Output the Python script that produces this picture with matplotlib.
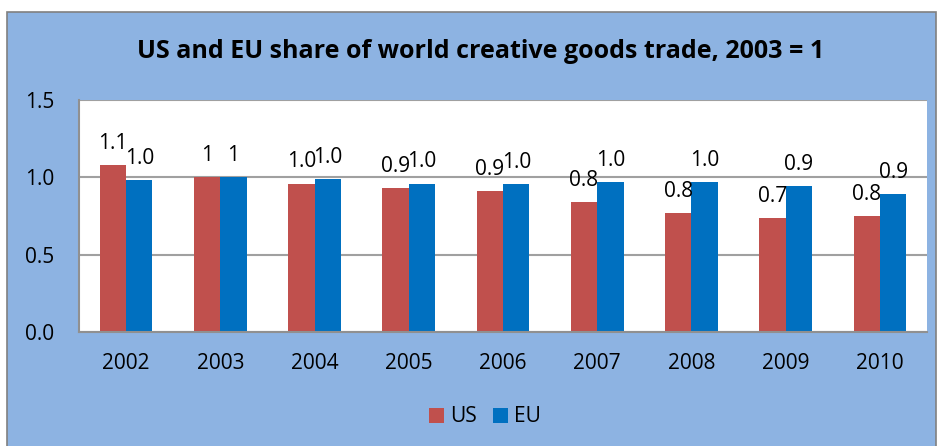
import numpy as np
import matplotlib.pyplot as plt
from matplotlib.patches import Rectangle

years = ['2002', '2003', '2004', '2005', '2006', '2007', '2008', '2009', '2010']
us = [1.08, 1.00, 0.96, 0.93, 0.91, 0.84, 0.77, 0.735, 0.75]
eu = [0.98, 1.00, 0.99, 0.96, 0.955, 0.97, 0.97, 0.945, 0.89]

red = '#C0504D'
blue = '#0070C0'
bg = '#8DB3E2'


def label(v):
    return '1' if v == 1 else f'{v:.1f}'


plt.rcParams['font.family'] = ['Open Sans', 'DejaVu Sans']

fig = plt.figure(figsize=(9.38, 4.46), dpi=100)
fig.patch.set_facecolor('white')
fig.patches.append(Rectangle((7 / 938, -0.01), 929 / 938, 1 - 12 / 446 + 0.01,
                             transform=fig.transFigure, facecolor=bg,
                             edgecolor='#808080', linewidth=1.2, zorder=-10))

ax = fig.add_axes([79 / 938, 114 / 446, 848 / 938, 232 / 446])
ax.set_facecolor('white')

x = np.arange(len(years))
w = 0.28
b1 = ax.bar(x - w / 2, us, w, color=red, label='US', zorder=3)
b2 = ax.bar(x + w / 2, eu, w, color=blue, label='EU', zorder=3)

for bars, vals in ((b1, us), (b2, eu)):
    for r, v in zip(bars, vals):
        ax.annotate(label(v), (r.get_x() + r.get_width() / 2, v),
                    xytext=(0, 8), textcoords='offset points',
                    ha='center', va='bottom', fontsize=15, zorder=4)

ax.set_xlim(-0.5, len(years) - 0.5)
ax.set_ylim(0, 1.5)
ax.set_yticks([0, 0.5, 1.0, 1.5])
ax.set_yticklabels(['0.0', '0.5', '1.0', '1.5'])
ax.set_xticks(x)
ax.set_xticklabels(years)
ax.tick_params(axis='both', length=0, labelsize=15)
ax.tick_params(axis='y', pad=18)
ax.tick_params(axis='x', pad=15)
ax.grid(axis='y', color='#A0A0A0', linewidth=1.5, zorder=1)
for s in ('top', 'right'):
    ax.spines[s].set_visible(False)
for s in ('left', 'bottom'):
    ax.spines[s].set_color('#909090')
    ax.spines[s].set_linewidth(1.5)
ax.spines['bottom'].set_zorder(5)

fig.text(481 / 938, 1 - 51 / 446, 'US and EU share of world creative goods trade, 2003 = 1',
         ha='center', va='center', fontsize=18, fontweight='bold')

fig.legend(loc='center', bbox_to_anchor=(485 / 938, 29 / 446), ncol=2, frameon=False,
           fontsize=15, handlelength=0.7, handleheight=0.7, handletextpad=0.3,
           columnspacing=0.8)

fig.savefig('out.png', dpi=100)
